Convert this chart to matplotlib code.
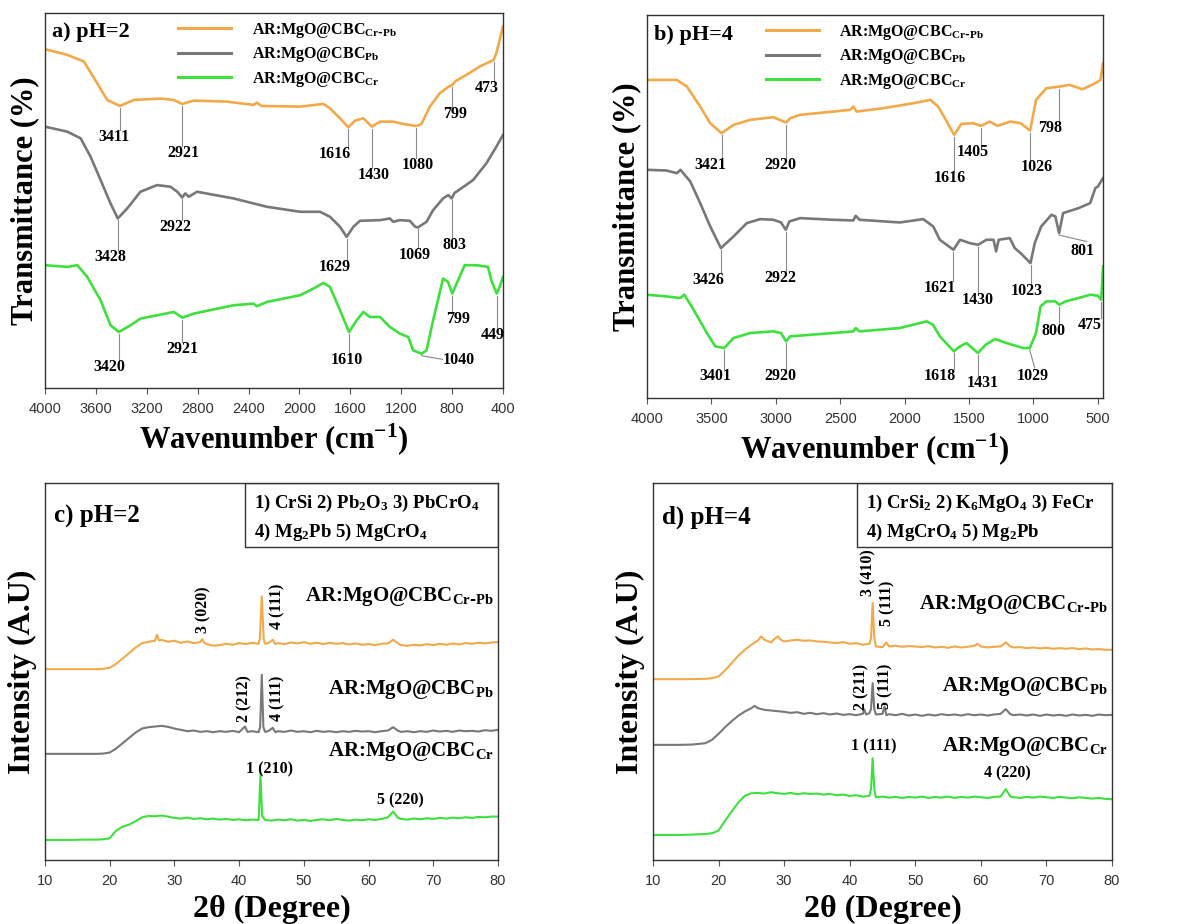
import matplotlib
matplotlib.use('Agg')
import matplotlib.pyplot as plt
import numpy as np
from matplotlib.lines import Line2D
from matplotlib.patches import Rectangle

plt.rcParams['font.family'] = 'Liberation Serif'
plt.rcParams['font.weight'] = 'bold'
plt.rcParams['axes.labelweight'] = 'bold'
plt.rcParams['mathtext.default'] = 'regular'

c_crpb = '#F2A94A'
c_pb = '#787878'
c_cr = '#3EE03E'
c_mark = '#8a8a8a'

lbl_crpb = r'AR:MgO@CBC$_{Cr\text{-}Pb}$'
lbl_pb = r'AR:MgO@CBC$_{Pb}$'
lbl_cr = r'AR:MgO@CBC$_{Cr}$'

# ---------------- FTIR, pH=2 ----------------
wn_a_crpb = [4000, 3825, 3694, 3590, 3511, 3411, 3302, 3093, 2988, 2921, 2831, 2570, 2361, 2335, 2300,
             1995, 1812, 1760, 1681, 1616, 1563, 1498, 1430, 1367, 1263, 1184, 1080, 1041, 975, 897,
             830, 799, 770, 688, 583, 500, 473, 452, 413, 400]
t_a_crpb = [101.5, 99.8, 97.8, 91.3, 86.3, 84.5, 86.3, 86.7, 86.3, 85.1, 86.1, 85.8, 84.8, 85.5, 84.5,
            84.3, 85.1, 83.8, 80.8, 78.1, 80.1, 80.8, 78.3, 79.8, 79.8, 79.1, 78.5, 79.1, 84.3, 88.3,
            90.2, 90.8, 92.0, 93.8, 96.3, 97.8, 98.3, 100.3, 106.3, 108.3]

wn_a_pb = [4000, 3825, 3720, 3642, 3563, 3485, 3428, 3354, 3250, 3119, 3014, 2960, 2922, 2897, 2870,
           2805, 2518, 2256, 1995, 1838, 1760, 1681, 1629, 1576, 1524, 1367, 1289, 1263, 1210, 1132,
           1090, 1069, 1001, 949, 871, 830, 803, 780, 766, 635, 531, 452, 400]
t_a_pb = [78.3, 76.8, 74.8, 69.3, 62.3, 55.3, 50.8, 53.8, 58.8, 60.8, 60.3, 58.8, 57.1, 58.3, 57.3,
          58.8, 56.8, 54.3, 52.8, 52.8, 51.3, 48.3, 45.3, 48.3, 50.1, 50.3, 50.8, 49.8, 50.3, 50.1,
          48.3, 48.1, 49.8, 53.3, 56.8, 57.8, 56.8, 58.5, 58.8, 62.3, 67.3, 72.3, 75.8]

wn_a_cr = [4000, 3825, 3746, 3668, 3563, 3485, 3420, 3328, 3250, 2988, 2921, 2831, 2518, 2361, 2335,
           2256, 1995, 1890, 1812, 1760, 1681, 1610, 1550, 1498, 1446, 1367, 1289, 1210, 1145, 1106,
           1040, 1001, 949, 871, 832, 799, 753, 701, 609, 518, 492, 449, 426, 400]
t_a_cr = [36.8, 36.3, 36.8, 33.3, 26.3, 18.8, 16.8, 18.8, 20.8, 22.8, 21.1, 22.3, 24.8, 25.3, 24.5,
          25.8, 27.8, 29.8, 31.5, 30.3, 23.3, 16.8, 20.3, 22.8, 21.3, 21.3, 18.3, 16.3, 15.3, 11.3,
          10.3, 11.3, 20.3, 32.8, 31.8, 28.3, 32.3, 36.8, 36.8, 36.3, 32.3, 28.3, 30.3, 33.3]

# peak marks: (wavenumber, label text x, label text y[, line end x, line end y])
peaks_a_crpb = [(3411, 3459, 75.2), (2921, 2910, 70.4), (1616, 1720, 70.1), (1430, 1420, 63.8),
                (1080, 1067, 66.8), (799, 779, 82.2), (473, 531, 89.8)]
peaks_a_pb = [(3428, 3485, 39.3), (2922, 2975, 48.3), (1629, 1720, 36.3), (1069, 1093, 39.8),
              (803, 779, 42.8)]
peaks_a_cr = [(3420, 3498, 6.3), (2921, 2923, 11.8), (1610, 1629, 8.3), (1040, 745, 8.3, 875, 8.6),
              (799, 753, 20.8), (449, 478, 15.8)]

# ---------------- FTIR, pH=4 ----------------
wn_b_crpb = [4000, 3768, 3690, 3587, 3509, 3421, 3328, 3199, 3018, 2920, 2889, 2812, 2553, 2424, 2398,
             2373, 2166, 1933, 1800, 1740, 1680, 1616, 1560, 1470, 1405, 1340, 1280, 1180, 1100, 1026,
             980, 900, 798, 720, 620, 520, 480, 460]
t_b_crpb = [95.5, 95.5, 93.5, 87.5, 82.5, 79.5, 82.0, 83.5, 84.3, 82.7, 84.0, 85.0, 86.0, 86.5, 87.5,
            86.0, 87.0, 88.5, 89.5, 87.5, 83.5, 79.0, 82.3, 82.5, 81.7, 83.0, 81.7, 83.0, 82.5, 80.3,
            89.5, 93.0, 93.5, 94.0, 92.7, 94.5, 95.5, 100.5]

wn_b_pb = [4000, 3850, 3768, 3740, 3664, 3587, 3509, 3426, 3328, 3225, 3122, 3018, 2960, 2922, 2895,
           2812, 2553, 2398, 2380, 2350, 2037, 1856, 1778, 1727, 1621, 1570, 1495, 1430, 1365, 1310,
           1290, 1270, 1184, 1145, 1100, 1023, 990, 940, 860, 830, 801, 770, 650, 560, 520, 500, 460]
t_b_pb = [68.5, 68.3, 67.5, 68.5, 65.0, 58.5, 51.5, 45.0, 48.5, 52.5, 53.7, 53.5, 52.7, 50.5, 53.0,
          54.0, 53.5, 53.3, 54.7, 53.5, 52.7, 53.7, 51.5, 47.5, 44.5, 47.5, 46.5, 46.0, 47.5, 47.5,
          44.0, 47.5, 48.0, 45.0, 43.5, 40.5, 46.5, 51.5, 55.0, 54.5, 49.5, 55.5, 57.0, 58.5, 63.0,
          63.5, 66.0]

wn_b_cr = [4000, 3850, 3742, 3710, 3638, 3535, 3470, 3401, 3328, 3199, 3018, 2960, 2920, 2889, 2553,
           2398, 2380, 2350, 2037, 1830, 1780, 1727, 1618, 1570, 1520, 1431, 1370, 1300, 1210, 1080,
           1029, 980, 945, 900, 830, 800, 750, 650, 560, 500, 475, 468, 460]
t_b_cr = [31.0, 30.5, 30.0, 31.0, 26.5, 19.5, 15.5, 15.0, 18.0, 19.5, 20.0, 19.5, 17.0, 18.5, 19.5,
          20.0, 21.0, 20.0, 21.0, 23.0, 22.0, 18.5, 14.0, 15.5, 16.5, 13.5, 16.0, 17.7, 16.5, 15.0,
          15.0, 19.5, 27.5, 29.0, 29.0, 28.0, 29.0, 30.0, 31.0, 30.7, 29.5, 33.5, 39.5]

peaks_b_crpb = [(3421, 3509, 70.0), (2920, 2967, 70.0), (1616, 1649, 66.0), (1405, 1468, 74.0),
                (1026, 978, 69.5), (798, 874, 81.0)]
peaks_b_pb = [(3426, 3522, 35.5), (2922, 2967, 36.0), (1621, 1727, 33.0), (1430, 1430, 29.5),
              (1023, 1055, 32.0), (801, 616, 44.0, 590, 47.0)]
peaks_b_cr = [(3401, 3470, 6.5), (2920, 2967, 6.5), (1618, 1727, 6.5), (1431, 1391, 4.5),
              (1029, 1003, 6.5, 990, 9.0), (800, 848, 20.0), (475, 564, 22.0)]

# ---------------- XRD, pH=2 ----------------
tt_c_crpb = [10, 12, 14, 16, 18, 19, 20, 21, 22, 23, 24, 25, 26, 27, 27.3, 27.6, 28, 29, 30, 31, 32, 33,
             34, 34.3, 34.6, 35, 36, 37, 38, 39, 40, 41, 42, 43, 43.2, 43.5, 43.8, 44, 44.5, 45.2, 45.6,
             46, 47, 48, 49, 50, 51, 52, 53, 54, 55, 56, 57, 58, 59, 60, 61, 62, 63, 63.8, 64.5, 65, 66,
             67, 68, 69, 70, 71, 72, 73, 74, 75, 76, 77, 78, 79, 80]
i_c_crpb = [572, 572, 572, 572, 572, 573, 576, 588, 604, 620, 637, 650, 654, 657, 675, 658, 660, 654,
            657, 651, 655, 650, 653, 662, 651, 647, 642, 644, 648, 645, 650, 647, 651, 648, 662, 790,
            662, 648, 650, 660, 647, 650, 647, 652, 649, 653, 648, 651, 647, 651, 648, 650, 646, 649,
            645, 647, 644, 648, 649, 660, 650, 644, 642, 645, 643, 647, 644, 648, 645, 649, 646, 650,
            648, 651, 649, 652, 653]

tt_c_pb = [10, 12, 14, 16, 18, 19, 20, 21, 22, 23, 24, 25, 26, 27, 28, 29, 30, 31, 32, 33, 34, 35, 36,
           37, 38, 39, 40, 40.9, 41.3, 42, 43, 43.25, 43.5, 43.75, 44, 44.5, 45.2, 45.6, 46, 47, 48, 49,
           50, 51, 52, 53, 54, 55, 56, 57, 58, 59, 60, 61, 62, 63, 63.8, 64.5, 65, 66, 67, 68, 69, 70,
           71, 72, 73, 74, 75, 76, 77, 78, 79, 80]
i_c_pb = [318, 318, 318, 318, 318, 319, 322, 334, 350, 366, 382, 394, 398, 400, 402, 399, 394, 390,
          386, 388, 384, 386, 383, 386, 384, 387, 383, 400, 384, 386, 383, 398, 555, 398, 384, 386,
          396, 383, 386, 384, 388, 384, 386, 383, 387, 384, 386, 383, 386, 384, 387, 385, 386, 383,
          386, 388, 398, 388, 384, 386, 383, 386, 384, 388, 385, 387, 384, 388, 386, 387, 385, 389,
          387, 390]

tt_c_cr = [10, 12, 14, 16, 18, 19, 20, 21, 22, 23, 24, 25, 26, 27, 28, 29, 30, 31, 32, 33, 34, 35, 36,
           37, 38, 39, 40, 41, 42, 43, 43.05, 43.3, 43.55, 44, 45, 46, 47, 48, 49, 50, 51, 52, 53, 54,
           55, 56, 57, 58, 59, 60, 61, 62, 63, 63.8, 64.5, 65, 66, 67, 68, 69, 70, 71, 72, 73, 74, 75,
           76, 77, 78, 79, 80]
i_c_cr = [60, 60, 60, 61, 61, 62, 65, 88, 100, 106, 116, 128, 132, 131, 133, 130, 126, 124, 127, 123,
          125, 122, 124, 121, 123, 120, 122, 119, 121, 120, 132, 260, 132, 120, 118, 121, 119, 122, 118,
          120, 117, 120, 122, 119, 123, 120, 118, 121, 119, 122, 120, 123, 128, 145, 127, 123, 121, 124,
          122, 125, 123, 126, 124, 127, 125, 128, 126, 129, 128, 130, 130]

# ---------------- XRD, pH=4 ----------------
tt_d_crpb = [10, 12, 14, 16, 18, 19, 20, 21, 22, 23, 24, 25, 26, 26.5, 27, 28, 28.5, 29, 29.5, 30, 31,
             32, 33, 34, 35, 36, 37, 38, 39, 40, 41, 42, 43, 43.25, 43.5, 43.75, 44, 45, 45.6, 46, 47,
             48, 49, 50, 51, 52, 53, 54, 55, 56, 57, 58, 59, 59.5, 60, 61, 62, 63, 63.8, 64.5, 65, 66,
             67, 68, 69, 70, 71, 72, 73, 74, 75, 76, 77, 78, 79, 80]
i_d_crpb = [542, 542, 542, 542, 543, 545, 550, 568, 590, 612, 630, 645, 658, 670, 660, 652, 662, 670,
            660, 655, 658, 660, 657, 658, 655, 654, 652, 650, 653, 648, 650, 645, 648, 665, 770, 665,
            640, 638, 652, 640, 642, 639, 641, 640, 638, 641, 637, 639, 636, 640, 637, 639, 642, 648,
            640, 637, 639, 640, 652, 640, 637, 638, 635, 637, 634, 636, 633, 635, 633, 635, 632, 634,
            631, 632, 630, 630]

tt_d_pb = [10, 12, 14, 16, 18, 19, 20, 21, 22, 23, 24, 25, 25.5, 26, 27, 28, 29, 30, 31, 32, 33, 34,
           35, 36, 37, 38, 39, 40, 41, 42, 42.2, 42.5, 43, 43.25, 43.5, 43.75, 44, 45, 45.3, 45.6, 46,
           47, 48, 49, 50, 51, 52, 53, 54, 55, 56, 57, 58, 59, 60, 61, 62, 63, 63.8, 64.5, 65, 66, 67,
           68, 69, 70, 71, 72, 73, 74, 75, 76, 77, 78, 79, 80]
i_d_pb = [345, 345, 345, 346, 350, 360, 378, 398, 416, 432, 445, 455, 462, 455, 450, 448, 446, 444,
          441, 443, 438, 441, 437, 440, 436, 439, 435, 437, 434, 438, 452, 436, 440, 452, 530, 452,
          436, 438, 460, 434, 437, 434, 438, 433, 436, 432, 436, 433, 437, 434, 436, 433, 437, 434,
          436, 433, 436, 438, 452, 437, 434, 436, 433, 436, 432, 436, 433, 435, 432, 436, 433, 435,
          432, 436, 434, 435]

tt_d_cr = [10, 12, 14, 16, 18, 19, 20, 21, 22, 23, 24, 25, 26, 27, 28, 29, 30, 31, 32, 33, 34, 35, 36,
           37, 38, 39, 40, 41, 42, 43, 43.25, 43.5, 43.75, 44, 45, 46, 47, 48, 49, 50, 51, 52, 53, 54,
           55, 56, 57, 58, 59, 60, 61, 62, 63, 63.8, 64.5, 65, 66, 67, 68, 69, 70, 71, 72, 73, 74, 75,
           76, 77, 78, 79, 80]
i_d_cr = [75, 75, 75, 76, 78, 80, 88, 118, 145, 172, 192, 200, 201, 199, 203, 200, 198, 201, 197, 200,
          198, 199, 196, 198, 194, 196, 192, 194, 190, 192, 212, 305, 212, 188, 190, 187, 189, 186, 189,
          187, 190, 186, 189, 187, 190, 186, 189, 187, 190, 188, 186, 189, 190, 212, 190, 188, 186, 189,
          187, 190, 188, 186, 189, 187, 185, 188, 186, 184, 186, 183, 182]

# hkl labels: (text, x, y, rotation)
hkl_c = [('3 (020)', 34.5, 750, 90), ('4 (111)', 45.9, 760, 90), ('2 (212)', 40.8, 485, 90),
         ('4 (111)', 45.9, 485, 90), ('1 (210)', 44.7, 270, 0), ('5 (220)', 64.9, 180, 0)]
hkl_d = [('3 (410)', 42.8, 860, 90), ('5 (111)', 45.7, 770, 90), ('2 (211)', 41.8, 520, 90),
         ('5 (111)', 45.5, 520, 90), ('1 (111)', 43.6, 340, 0), ('4 (220)', 64.0, 260, 0)]
phases_c = [r'1) CrSi 2) Pb$_2$O$_3$ 3) PbCrO$_4$', r'4) Mg$_2$Pb 5) MgCrO$_4$']
phases_d = [r'1) CrSi$_2$ 2) K$_6$MgO$_4$ 3) FeCr', r'4) MgCrO$_4$ 5) Mg$_2$Pb']


def style_axes(ax):
    ax.tick_params(axis='x', direction='out', length=4, width=0.8, color='#555555',
                   labelsize=10.5, labelcolor='#333333', pad=6)
    ax.tick_params(axis='y', left=False, labelleft=False)
    for lab in ax.get_xticklabels():
        lab.set_fontfamily('Liberation Sans')
        lab.set_fontweight('normal')
    for s in ax.spines.values():
        s.set_linewidth(1.0)
        s.set_color('#333333')


def mark_peaks(ax, wn, t, peaks):
    xs = np.asarray(wn)[::-1]
    ys = np.asarray(t)[::-1]
    for p in peaks:
        x0, xt, yt = p[:3]
        y0 = np.interp(x0, xs, ys) - 0.6
        if len(p) > 3:
            xe, ye = p[3], p[4]
        else:
            xe, ye = x0, yt + 2.1
        ax.plot([x0, xe], [y0, ye], color=c_mark, lw=0.8)
        ax.text(xt, yt, str(x0), ha='center', va='center', fontsize=11.5)


def ftir_panel(ax, data, peaks, title, xlim, ylim, xticks, leg_x):
    for (wn, t, col, lab), pk in zip(data, peaks):
        ax.plot(wn, t, color=col, lw=1.9, label=lab)
        mark_peaks(ax, wn, t, pk)
    ax.set_xlim(*xlim)
    ax.set_ylim(*ylim)
    ax.set_xticks(xticks)
    ax.text(0.015, 0.975, title, transform=ax.transAxes, fontsize=16, va='top', ha='left')
    handles = [Line2D([], [], color=d[2], lw=2.2) for d in data]
    ax.legend(handles, [d[3] for d in data], loc='upper left', bbox_to_anchor=(leg_x, 1.005),
              frameon=False, fontsize=11.5, handlelength=3.3, handletextpad=1.3,
              labelspacing=0.35, borderaxespad=0.2)
    ax.set_ylabel('Transmittance (%)', fontsize=22, labelpad=4)
    ax.set_xlabel('Wavenumber (cm$^{-1}$)', fontsize=22, labelpad=4)
    style_axes(ax)


def xrd_panel(ax, data, hkl, phases, title, box_x, lab_y):
    for (tt, inten, col, lab), ly in zip(data, lab_y):
        ax.plot(tt, inten, color=col, lw=1.5)
        ax.text(79.3, ly, lab, ha='right', va='center', fontsize=15)
    for txt, x, y, rot in hkl:
        ax.text(x, y, txt, ha='center', va='center', rotation=rot, fontsize=11.5)
    ax.set_xlim(10, 80)
    ax.set_ylim(0, 1130)
    ax.set_xticks(range(10, 81, 10))
    ax.add_patch(Rectangle((box_x, 0.83), 1 - box_x, 0.17, transform=ax.transAxes,
                           fill=False, edgecolor='#333333', lw=1.0))
    ax.text(box_x + 0.02, 0.945, phases[0], transform=ax.transAxes, fontsize=13.5, va='center')
    ax.text(box_x + 0.02, 0.87, phases[1], transform=ax.transAxes, fontsize=13.5, va='center')
    ax.text(0.02, 0.91, title, transform=ax.transAxes, fontsize=18, va='center', ha='left')
    ax.set_ylabel('Intensity (A.U)', fontsize=23, labelpad=6)
    ax.set_xlabel('2θ (Degree)', fontsize=23, labelpad=5)
    style_axes(ax)


fig = plt.figure(figsize=(11.97, 9.24), dpi=100)
ax_a = fig.add_axes([0.0376, 0.580, 0.3826, 0.4058])
ax_b = fig.add_axes([0.5405, 0.5693, 0.381, 0.4145])
ax_c = fig.add_axes([0.0376, 0.0693, 0.3784, 0.408])
ax_d = fig.add_axes([0.5455, 0.0693, 0.3835, 0.408])

ftir_panel(ax_a,
           [(wn_a_crpb, t_a_crpb, c_crpb, lbl_crpb), (wn_a_pb, t_a_pb, c_pb, lbl_pb),
            (wn_a_cr, t_a_cr, c_cr, lbl_cr)],
           [peaks_a_crpb, peaks_a_pb, peaks_a_cr], 'a) pH=2', (4000, 400), (0, 112.3),
           range(4000, 399, -400), 0.27)
ftir_panel(ax_b,
           [(wn_b_crpb, t_b_crpb, c_crpb, lbl_crpb), (wn_b_pb, t_b_pb, c_pb, lbl_pb),
            (wn_b_cr, t_b_cr, c_cr, lbl_cr)],
           [peaks_b_crpb, peaks_b_pb, peaks_b_cr], 'b) pH=4', (4000, 460), (0, 115),
           range(4000, 499, -500), 0.24)

xrd_panel(ax_c,
          [(tt_c_crpb, i_c_crpb, c_crpb, lbl_crpb), (tt_c_pb, i_c_pb, c_pb, lbl_pb),
           (tt_c_cr, i_c_cr, c_cr, lbl_cr)],
          hkl_c, phases_c, 'c) pH=2', 0.442, [790, 510, 325])
xrd_panel(ax_d,
          [(tt_d_crpb, i_d_crpb, c_crpb, lbl_crpb), (tt_d_pb, i_d_pb, c_pb, lbl_pb),
           (tt_d_cr, i_d_cr, c_cr, lbl_cr)],
          hkl_d, phases_d, 'd) pH=4', 0.444, [765, 520, 340])

fig.savefig('out.png', dpi=100)
